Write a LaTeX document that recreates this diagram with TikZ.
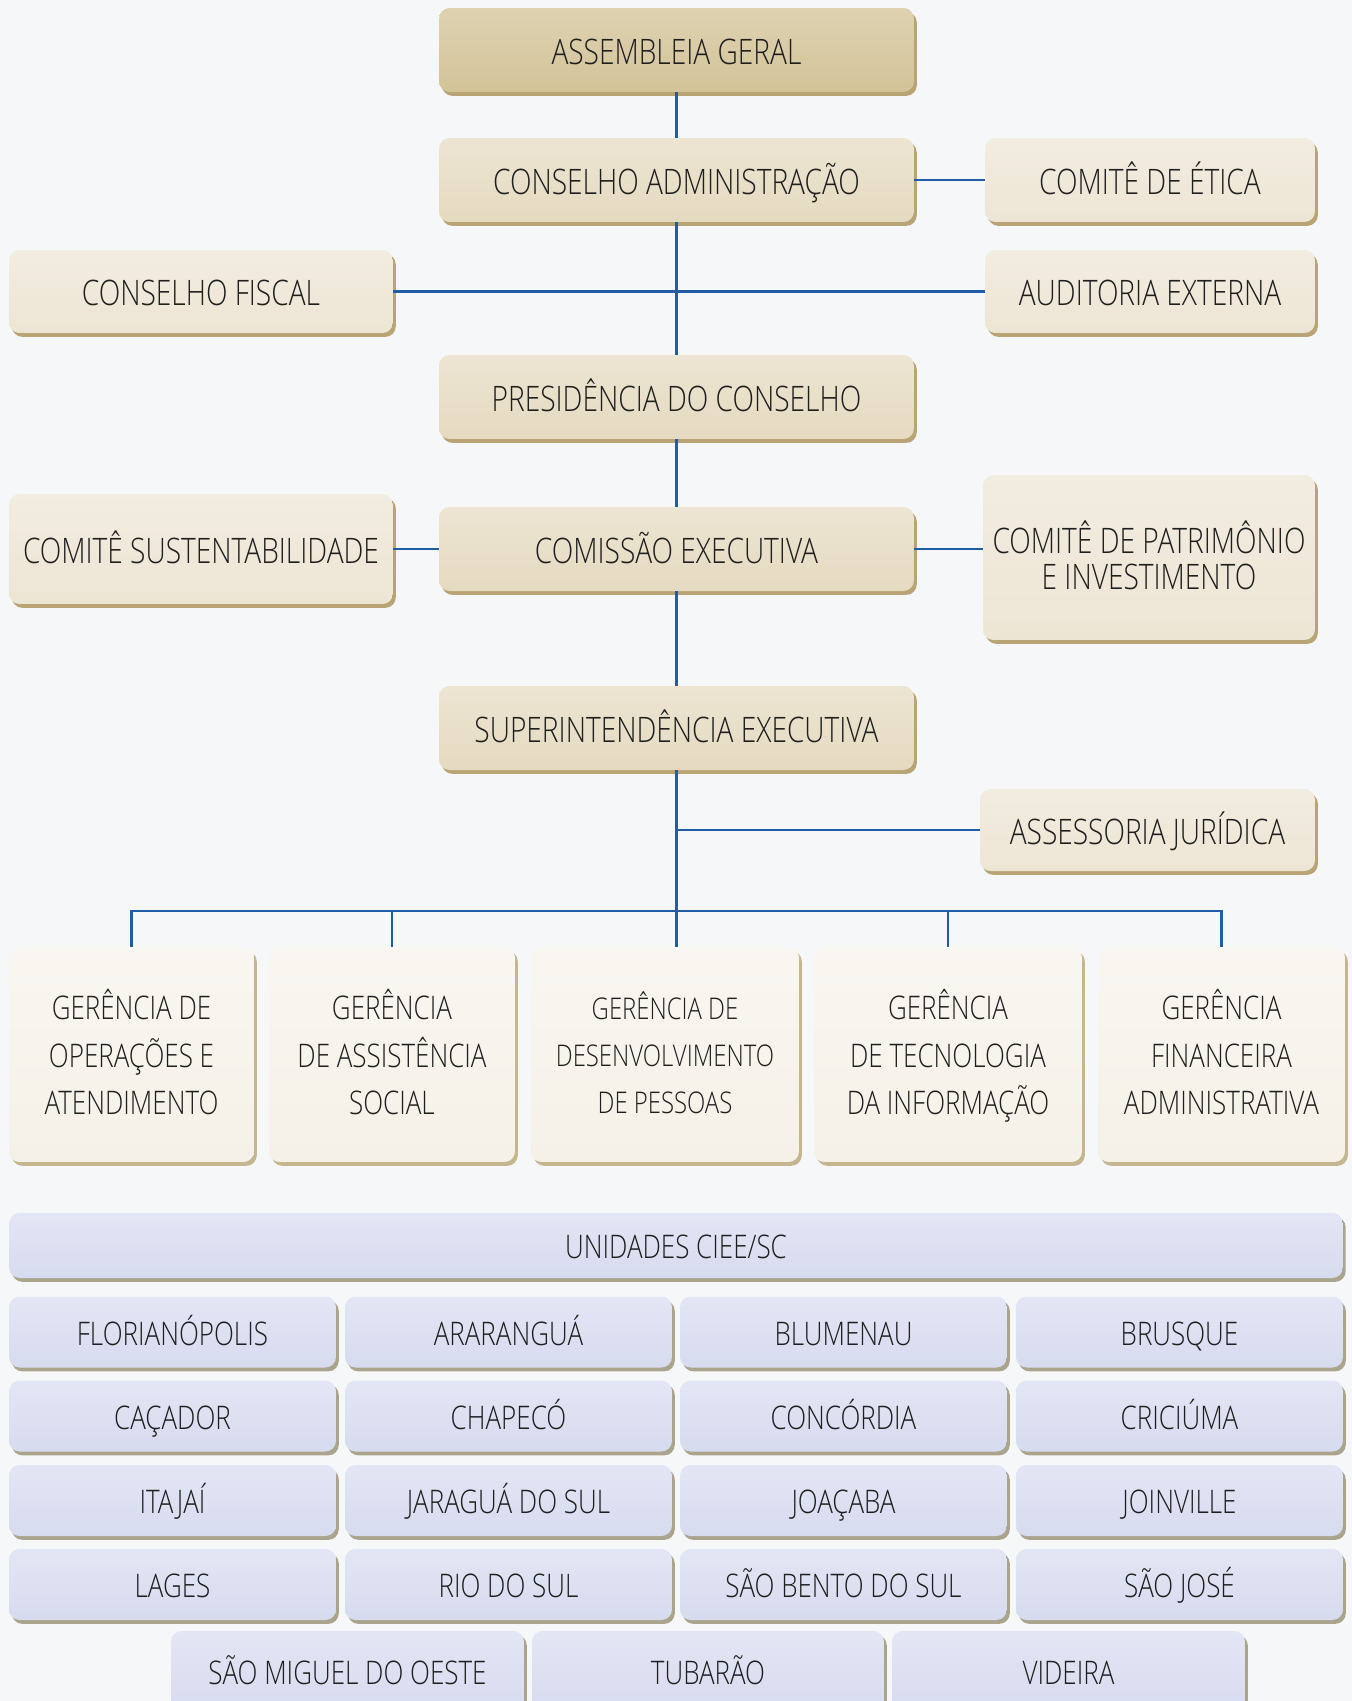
\documentclass[tikz,border=0pt]{standalone}
\usepackage{fontspec}
\setmainfont{Open Sans Light}[FakeStretch=0.8]
\usepackage{xcolor}
\usepackage{tikz}
\usetikzlibrary{positioning, calc, shadows}
\definecolor{pagebg}{RGB}{246,247,249}
\definecolor{tandark}{RGB}{211,195,152}
\definecolor{tanmid}{RGB}{229,218,192}
\definecolor{tanlight}{RGB}{237,229,212}
\definecolor{cream}{RGB}{245,241,232}
\definecolor{unitblue}{RGB}{215,219,239}
\definecolor{tanshade}{RGB}{184,164,116}
\definecolor{blueshade}{RGB}{170,164,140}
\definecolor{linkblue}{RGB}{31,93,168}
\definecolor{textgray}{RGB}{30,30,30}
\tikzset{
  card/.style={
    rounded corners=6pt,
    inner sep=2pt,
    align=center,
    text=textgray,
    font=\fontsize{20}{23}\selectfont,
    text height=20pt,
    text depth=4pt
  },
  topbox/.style={
    card,
    top color=tandark!75!white,
    bottom color=tandark,
    drop shadow={shadow xshift=1.6pt, shadow yshift=-2.2pt, fill=tanshade, opacity=1},
    minimum width=9.5cm,
    minimum height=1.68cm
  },
  mainbox/.style={
    card,
    top color=tanmid!70!white,
    bottom color=tanmid,
    drop shadow={shadow xshift=1.6pt, shadow yshift=-2.2pt, fill=tanshade, opacity=1},
    minimum width=9.5cm,
    minimum height=1.68cm
  },
  sidebox/.style={
    card,
    top color=tanlight!70!white,
    bottom color=tanlight,
    drop shadow={shadow xshift=1.6pt, shadow yshift=-2.2pt, fill=tanshade, opacity=1}
  },
  gerbox/.style={
    card,
    top color=cream!60!white,
    bottom color=cream,
    drop shadow={shadow xshift=1.6pt, shadow yshift=-2.2pt, fill=tanshade!80!white, opacity=1},
    minimum height=4.3cm,
    font=\fontsize{18.5}{27}\selectfont,
    text height=72.7pt
  },
  unitbox/.style={
    card,
    top color=unitblue!70!white,
    bottom color=unitblue,
    drop shadow={shadow xshift=1.6pt, shadow yshift=-2.2pt, fill=blueshade, opacity=1},
    minimum height=1.42cm,
    minimum width=6.54cm,
    font=\fontsize{18.5}{22}\selectfont,
    text height=19pt
  },
  link/.style={draw=linkblue, line width=1.6pt}
}

\begin{document}
\begin{tikzpicture}[x=0.02cm, y=-0.02cm]
\fill[pagebg] (0,0) rectangle (1352,1701);
\useasboundingbox (0,0) rectangle (1352,1701);

\node[topbox] (asm) at (676.5,50) {ASSEMBLEIA GERAL};
\node[mainbox] (cadm) at (676.5,180) {CONSELHO ADMINISTRAÇÃO};
\node[sidebox, minimum width=6.6cm, minimum height=1.68cm] (etica) at (1150,180) {COMITÊ DE ÉTICA};
\node[sidebox, minimum width=7.68cm, minimum height=1.66cm] (fiscal) at (201,291.5) {CONSELHO FISCAL};
\node[sidebox, minimum width=6.6cm, minimum height=1.66cm] (audit) at (1150,291.5) {AUDITORIA EXTERNA};
\node[mainbox] (pres) at (676.5,397) {PRESIDÊNCIA DO CONSELHO};
\node[sidebox, minimum width=7.68cm, minimum height=2.2cm] (sust) at (201,549) {COMITÊ SUSTENTABILIDADE};
\node[mainbox] (cexec) at (676.5,549) {COMISSÃO EXECUTIVA};
\node[sidebox, minimum width=6.64cm, minimum height=3.3cm, font=\fontsize{20}{20.5}\selectfont, text height=40.3pt] (patr) at (1149,557.5) {COMITÊ DE PATRIMÔNIO\\E INVESTIMENTO};
\node[mainbox] (super) at (676.5,728) {SUPERINTENDÊNCIA EXECUTIVA};
\node[sidebox, minimum width=6.7cm, minimum height=1.64cm] (jur) at (1147.5,830) {ASSESSORIA JURÍDICA};

\node[gerbox, minimum width=4.9cm] (g1) at (131.5,1054.5) {GERÊNCIA DE\\OPERAÇÕES E\\ATENDIMENTO};
\node[gerbox, minimum width=4.92cm] (g2) at (392,1054.5) {GERÊNCIA\\DE ASSISTÊNCIA\\SOCIAL};
\node[gerbox, minimum width=5.36cm, font=\fontsize{17}{27}\selectfont, text height=71.6pt] (g3) at (665,1054.5) {GERÊNCIA DE\\DESENVOLVIMENTO\\DE PESSOAS};
\node[gerbox, minimum width=5.36cm] (g4) at (948,1054.5) {GERÊNCIA\\DE TECNOLOGIA\\DA INFORMAÇÃO};
\node[gerbox, minimum width=4.94cm] (g5) at (1221.5,1054.5) {GERÊNCIA\\FINANCEIRA\\ADMINISTRATIVA};

\node[unitbox, minimum width=26.68cm, minimum height=1.3cm] (unid) at (676,1245.5) {UNIDADES CIEE/SC};

\node[unitbox] (floripa) at (172.5,1332) {FLORIANÓPOLIS};
\node[unitbox] (ararangua) at (508.5,1332) {ARARANGUÁ};
\node[unitbox] (blumenau) at (843.5,1332) {BLUMENAU};
\node[unitbox] (brusque) at (1179.5,1332) {BRUSQUE};
\node[unitbox] (cacador) at (172.5,1416) {CAÇADOR};
\node[unitbox] (chapeco) at (508.5,1416) {CHAPECÓ};
\node[unitbox] (concordia) at (843.5,1416) {CONCÓRDIA};
\node[unitbox] (criciuma) at (1179.5,1416) {CRICIÚMA};
\node[unitbox] (itajai) at (172.5,1500.5) {ITAJAÍ};
\node[unitbox] (jaragua) at (508.5,1500.5) {JARAGUÁ DO SUL};
\node[unitbox] (joacaba) at (843.5,1500.5) {JOAÇABA};
\node[unitbox] (joinville) at (1179.5,1500.5) {JOINVILLE};
\node[unitbox] (lages) at (172.5,1584.5) {LAGES};
\node[unitbox] (riosul) at (508.5,1584.5) {RIO DO SUL};
\node[unitbox] (saobento) at (843.5,1584.5) {SÃO BENTO DO SUL};
\node[unitbox] (saojose) at (1179.5,1584.5) {SÃO JOSÉ};
\node[unitbox, minimum width=7.06cm, minimum height=1.6cm] (smo) at (347.5,1671) {SÃO MIGUEL DO OESTE};
\node[unitbox, minimum width=7.04cm, minimum height=1.6cm] (tubarao) at (708,1671) {TUBARÃO};
\node[unitbox, minimum width=7.06cm, minimum height=1.6cm] (videira) at (1068.5,1671) {VIDEIRA};

\coordinate (bus) at (676.5,911);

\draw[link] (asm) -- (cadm);
\draw[link] (cadm) -- (pres);
\draw[link] (cadm) -- (etica);
\draw[link] (fiscal) -- (audit);
\draw[link] (pres) -- (cexec);
\draw[link] (sust) -- (cexec);
\draw[link] (cexec.east) -- (cexec.east -| patr.west);
\draw[link] (cexec) -- (super);
\draw[link] (super) -- (bus);
\draw[link] (jur.west) -- (jur.west -| super.south);
\draw[link] (g1.north) |- (bus -| g5.north) -- (g5.north);
\draw[link] (g2.north) |- (bus);
\draw[link] (bus) -- (bus |- g3.north);
\draw[link] (g4.north) |- (bus);
\end{tikzpicture}
\end{document}
